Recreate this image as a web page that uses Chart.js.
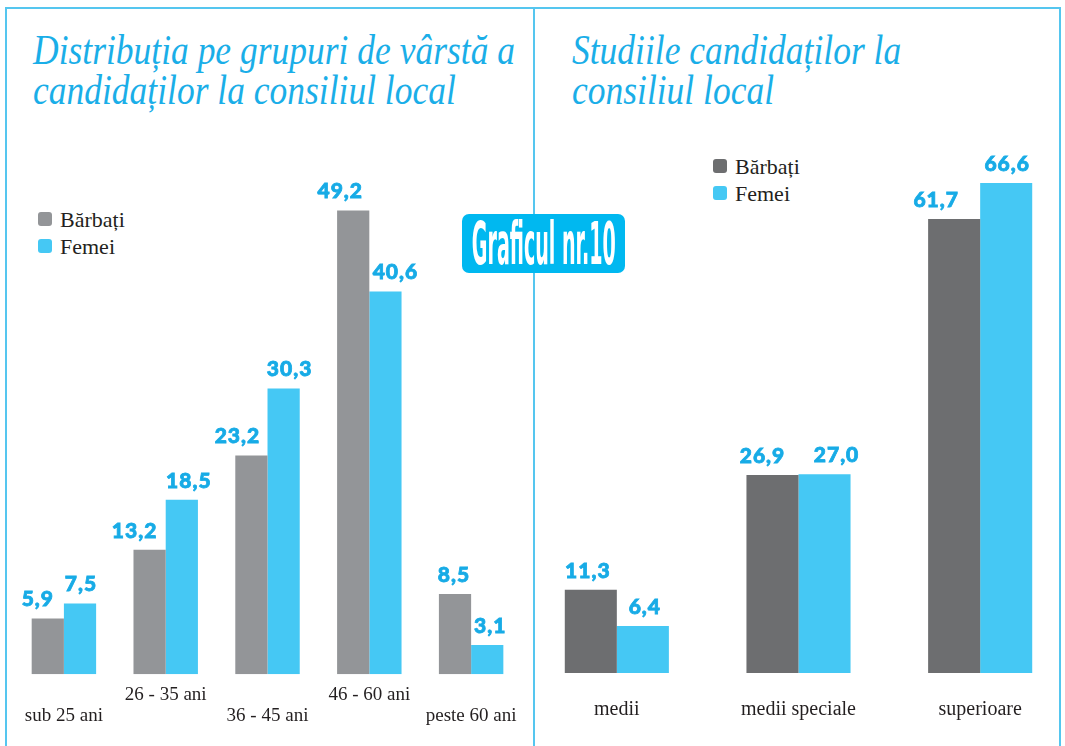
<!DOCTYPE html>
<html lang="ro">
<head>
<meta charset="utf-8">
<script src="https://cdn.jsdelivr.net/npm/chart.js@4.4.1/dist/chart.umd.min.js"></script>
<style>
  html, body { margin: 0; padding: 0; width: 1065px; height: 746px; overflow: hidden; background: #fff; }
  .frame { position: absolute; left: 5px; top: 7px; width: 1052px; height: 800px;
           border: 2px solid #55c6ef; border-bottom: none; }
  .divider { position: absolute; left: 533px; top: 7px; width: 2px; height: 760px; background: #55c6ef; }
  .title { position: absolute; font-family: "Liberation Serif", serif; font-style: italic;
           font-size: 42px; line-height: 40px; color: #1aaee8; white-space: nowrap; }
  .title div { transform-origin: left center; }
  .legend { position: absolute; font-family: "Liberation Serif", serif; font-size: 22px; color: #231f20; }
  .legend .row { position: relative; height: 27px; line-height: 27px; padding-left: 22px; white-space: nowrap; }
  .legend .sw { position: absolute; left: 0; top: 6px; width: 14px; height: 14px; border-radius: 3px; }
  .badge { position: absolute; left: 462px; top: 214px; width: 163px; height: 59px; border-radius: 7px;
           background: #00b8f0; display: flex; align-items: center; justify-content: center; overflow: visible; }
  .badge span { font-family: "Liberation Sans Narrow", "DejaVu Sans Condensed", sans-serif; font-weight: bold;
                font-size: 58px; line-height: 58px; color: #fff; white-space: nowrap; transform-origin: center center; }
  .box { position: absolute; }
</style>
</head>
<body>
<div class="frame"></div>
<div class="divider"></div>

<div class="title" id="titleLeft" style="left:33px; top:30px;">
  <div>Distribuția pe grupuri de vârstă a</div>
  <div>candidaților la consiliul local</div>
</div>
<div class="title" id="titleRight" style="left:572px; top:30px;">
  <div>Studiile candidaților la</div>
  <div>consiliul local</div>
</div>

<div class="legend" id="legendLeft" style="left:38px; top:206px;"></div>
<div class="legend" id="legendRight" style="left:713px; top:153px;"></div>

<div class="box" style="left:12.5px; top:164px; width:514px; height:573px;"><canvas id="ageChart"></canvas></div>
<div class="box" style="left:526px; top:138px; width:545px; height:608px;"><canvas id="studyChart"></canvas></div>

<div class="badge"><span id="badgeText">Graficul nr.10</span></div>

<script>
const ageGroups = ["sub 25 ani", "26 - 35 ani", "36 - 45 ani", "46 - 60 ani", "peste 60 ani"];
const ageMen = [5.9, 13.2, 23.2, 49.2, 8.5];
const ageWomen = [7.5, 18.5, 30.3, 40.6, 3.1];

const studyLevels = ["medii", "medii speciale", "superioare"];
const studyMen = [11.3, 26.9, 61.7];
const studyWomen = [6.4, 27.0, 66.6];

const seriesNames = ["Bărbați", "Femei"];

const CYAN = "#45c8f4";
const GREY_LIGHT = "#939598";
const GREY_DARK = "#6d6e70";

// fit the italic titles and the badge text to the width they have in the picture
const titleLines = document.querySelectorAll(".title div");
const measure = document.createElement("span");
measure.style.cssText = "position:absolute;visibility:hidden;font-family:'Liberation Serif',serif;font-style:italic;font-size:42px;white-space:nowrap";
measure.textContent = titleLines[0].textContent;
document.body.appendChild(measure);
const titleScale = 482 / measure.getBoundingClientRect().width;
titleLines.forEach((el) => (el.style.transform = `scaleX(${titleScale})`));
measure.remove();

const badge = document.getElementById("badgeText");
badge.style.transform = `scaleX(${144 / badge.getBoundingClientRect().width})`;

const buildLegend = (id, colors) => {
    const box = document.getElementById(id);
    seriesNames.forEach((name, i) => {
        box.insertAdjacentHTML(
            "beforeend",
            `<div class="row"><span class="sw" style="background:${colors[i]}"></span>${name}</div>`
        );
    });
};
buildLegend("legendLeft", [GREY_LIGHT, CYAN]);
buildLegend("legendRight", [GREY_DARK, CYAN]);

// value labels above the bars, with small sideways nudges like the print layout
const valueLabels = {
    id: "valueLabels",
    afterDatasetsDraw(chart, args, opts) {
        const ctx = chart.ctx;
        ctx.save();
        ctx.font = "900 21px Lato";
        ctx.letterSpacing = "1px";
        ctx.fillStyle = "#17abe6";
        ctx.strokeStyle = "#17abe6";
        ctx.lineWidth = 0.8;
        ctx.textAlign = "center";
        ctx.textBaseline = "middle";
        chart.data.datasets.forEach((ds, di) => {
            chart.getDatasetMeta(di).data.forEach((bar, i) => {
                const dx = (opts.nudge[di] || [])[i] || 0;
                const txt = ds.data[i].toFixed(1).replace(".", ",");
                ctx.fillText(txt, bar.x + dx, bar.y - 19);
                ctx.strokeText(txt, bar.x + dx, bar.y - 19);
            });
        });
        ctx.restore();
    },
};

const makeChart = (id, labels, men, women, cfg) =>
    new Chart(document.getElementById(id), {
        type: "bar",
        data: {
            labels,
            datasets: [
                { label: seriesNames[0], data: men, backgroundColor: cfg.grey },
                { label: seriesNames[1], data: women, backgroundColor: CYAN },
            ],
        },
        options: {
            responsive: true,
            maintainAspectRatio: false,
            animation: false,
            layout: { padding: { top: 20, left: 0, right: 0, bottom: 0 } },
            datasets: { bar: { categoryPercentage: cfg.catPct, barPercentage: 1, borderWidth: 0 } },
            plugins: {
                legend: { display: false },
                tooltip: { enabled: false },
                valueLabels: { nudge: cfg.nudge },
            },
            scales: {
                x: {
                    grid: { display: false, drawTicks: false },
                    border: { display: false },
                    ticks: {
                        padding: cfg.tickPad,
                        color: "#231f20",
                        maxRotation: 0,
                        autoSkip: false,
                        font: { family: "Liberation Serif", size: cfg.tickSize, lineHeight: 1.1 },
                        callback: cfg.tickCb,
                    },
                },
                y: { display: false, min: 0, max: cfg.yMax },
            },
        },
        plugins: [valueLabels],
    });

makeChart("ageChart", ageGroups, ageMen, ageWomen, {
    grey: GREY_LIGHT,
    catPct: 0.633,
    yMax: 52,
    tickPad: 10.5,
    tickSize: 19,
    tickCb: (v, i) => (i % 2 === 0 ? ["", ageGroups[i]] : ageGroups[i]),
    nudge: [[-10, -15, -14, -13, -1], [1, 7, 6, 10, 3]],
});

makeChart("studyChart", studyLevels, studyMen, studyWomen, {
    grey: GREY_DARK,
    catPct: 0.573,
    yMax: 70,
    tickPad: 25.5,
    tickSize: 20,
    tickCb: (v, i) => studyLevels[i],
    nudge: [[-3, -10, -18], [2, 12, 1]],
});
</script>
</body>
</html>
